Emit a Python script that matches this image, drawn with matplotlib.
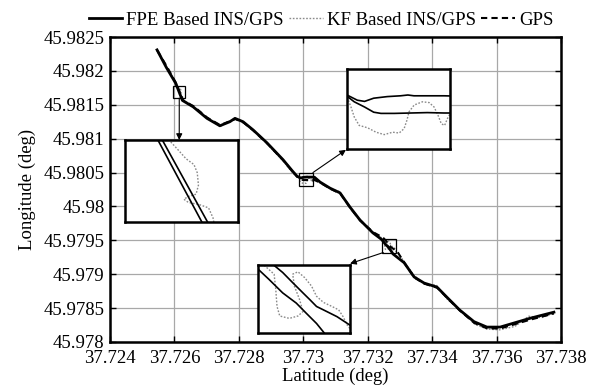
import matplotlib
matplotlib.use("Agg")
import matplotlib.pyplot as plt
from matplotlib.patches import Rectangle, ConnectionPatch

plt.rcParams['font.family'] = ['Liberation Serif', 'DejaVu Serif']
plt.rcParams['font.size'] = 13.5

# ---- tick values and labels ----
lat_ticks = [37.724, 37.726, 37.728, 37.730, 37.732, 37.734, 37.736, 37.738]
lat_labels = ['37.724', '37.726', '37.728', '37.73', '37.732', '37.734', '37.736', '37.738']
lon_ticks = [45.978, 45.9785, 45.979, 45.9795, 45.980, 45.9805, 45.981, 45.9815, 45.982, 45.9825]
lon_labels = ['45.978', '45.9785', '45.979', '45.9795', '45.98', '45.9805', '45.981',
              '45.9815', '45.982', '45.9825']

# ---- FPE based INS/GPS trajectory ----
fpe_lat = [37.72546, 37.72575, 37.726041, 37.726248, 37.72658, 37.72701, 37.72741, 37.72772,
           37.72788, 37.72813, 37.72844, 37.72887, 37.72937, 37.72965,
           37.729816, 37.729860, 37.729904, 37.729935, 37.729974, 37.730032, 37.730089,
           37.730120, 37.730146, 37.730203, 37.730274, 37.730344,
           37.73052, 37.73083, 37.73114, 37.73145, 37.73176, 37.73216,
           37.732396, 37.732440, 37.732492, 37.732558, 37.732623, 37.732671, 37.732720,
           37.732753, 37.732783,
           37.73313, 37.73344, 37.73375, 37.73415, 37.73446, 37.73486, 37.73530, 37.73570,
           37.73611, 37.73654, 37.73704, 37.73778]
fpe_lon = [45.98231, 45.98205, 45.981816, 45.981564, 45.98147, 45.98130, 45.98119, 45.98125,
           45.98130, 45.98125, 45.98113, 45.98094, 45.98069, 45.98053,
           45.980440, 45.980435, 45.980422, 45.980419, 45.980427, 45.980431, 45.980433,
           45.980435, 45.980433, 45.980433, 45.980433, 45.980432,
           45.98036, 45.98027, 45.98020, 45.97999, 45.97980, 45.97961,
           45.979526, 45.979508, 45.979478, 45.979438, 45.979408, 45.979378, 45.979348,
           45.979323, 45.979300,
           45.97917, 45.97896, 45.97887, 45.97881, 45.97866, 45.97847, 45.97830, 45.97822,
           45.97822, 45.97828, 45.97835, 45.97844]

# ---- KF based INS/GPS trajectory ----
kf_lat = [37.72548, 37.72577,
          37.726085, 37.726108, 37.726139, 37.726165, 37.726192, 37.726203, 37.726207,
          37.726199, 37.726173, 37.726158, 37.726173, 37.726211, 37.726241, 37.726256,
          37.726264,
          37.72660, 37.72700, 37.72742, 37.72770, 37.72790, 37.72815, 37.72846, 37.72888,
          37.72938, 37.72964,
          37.729816, 37.729860, 37.729877, 37.729891, 37.729912, 37.729948, 37.729984,
          37.730019, 37.730055, 37.730083, 37.730104, 37.730116, 37.730125, 37.730147,
          37.730182, 37.730211, 37.730232, 37.730249, 37.730263, 37.730277, 37.730289,
          37.730300, 37.730344,
          37.73054, 37.73085, 37.73112, 37.73147, 37.73178, 37.73214,
          37.732418, 37.732468, 37.732517, 37.732525, 37.732531, 37.732544, 37.732590,
          37.732631, 37.732655, 37.732639, 37.732614, 37.732606, 37.732631, 37.732663,
          37.732696, 37.732720, 37.732753, 37.732794, 37.732826, 37.732847, 37.732867,
          37.732880, 37.732924,
          37.73311, 37.73342, 37.73377, 37.73413, 37.73449, 37.73484, 37.73533, 37.73572,
          37.73610, 37.73657, 37.73700, 37.73740, 37.73776]
kf_lon = [45.98228, 45.98204,
          45.981798, 45.981780, 45.981758, 45.981739, 45.981726, 45.981708, 45.981681,
          45.981661, 45.981656, 45.981650, 45.981643, 45.981638, 45.981631, 45.981609,
          45.981582,
          45.98146, 45.98132, 45.98118, 45.98126, 45.98129, 45.98123, 45.98112, 45.98092,
          45.98067, 45.98051,
          45.980436, 45.980431, 45.980405, 45.980380, 45.980359, 45.980353, 45.980342,
          45.980336, 45.980342, 45.980340, 45.980351, 45.980372, 45.980393, 45.980410,
          45.980418, 45.980416, 45.980405, 45.980384, 45.980363, 45.980359, 45.980376,
          45.980388, 45.980400,
          45.98034, 45.98026, 45.98022, 45.97996, 45.97978, 45.97963,
          45.979540, 45.979520, 45.979493, 45.979448, 45.979398, 45.979370, 45.979363,
          45.979370, 45.979383, 45.979418, 45.979458, 45.979493, 45.979500, 45.979483,
          45.979458, 45.979428, 45.979410, 45.979398, 45.979388, 45.979368, 45.979343,
          45.979333, 45.979320,
          45.97920, 45.97899, 45.97885, 45.97884, 45.97862, 45.97849, 45.97826, 45.97819,
          45.97818, 45.97823, 45.97838, 45.97836, 45.97842]

# ---- GPS trajectory ----
gps_lat = [37.72547, 37.72577, 37.726055, 37.726268, 37.72659, 37.72702, 37.72742, 37.72773,
           37.72789, 37.72814, 37.72845, 37.72888, 37.72938, 37.72966,
           37.729816, 37.729860, 37.729891, 37.729935, 37.729974, 37.730005, 37.730062,
           37.730133, 37.730203, 37.730274, 37.730344,
           37.73053, 37.73084, 37.73115, 37.73146, 37.73177, 37.73217,
           37.732475, 37.732509, 37.732558, 37.732606, 37.732655, 37.732688, 37.732720,
           37.732753, 37.732818, 37.732880, 37.732924,
           37.73315, 37.73345, 37.73376, 37.73416, 37.73447, 37.73487, 37.73531, 37.73571,
           37.73612, 37.73655, 37.73705, 37.73778]
gps_lon = [45.98230, 45.98206, 45.981816, 45.981564, 45.98148, 45.98131, 45.98120, 45.98126,
           45.98129, 45.98124, 45.98112, 45.98093, 45.98068, 45.98052,
           45.980438, 45.980432, 45.980418, 45.980405, 45.980392, 45.980389, 45.980389,
           45.980390, 45.980391, 45.980390, 45.980390,
           45.98035, 45.98026, 45.98019, 45.97998, 45.97979, 45.97962,
           45.979540, 45.979523, 45.979498, 45.979468, 45.979438, 45.979418, 45.979398,
           45.979388, 45.979368, 45.979343, 45.979330,
           45.97916, 45.97895, 45.97886, 45.97880, 45.97865, 45.97846, 45.97828, 45.97820,
           45.97820, 45.97826, 45.97833, 45.97842]

# ---- zoom windows (lat range, lon range) ----
zoom_windows = [
    ((37.72596, 37.72634), (45.98160, 45.98178)),
    ((37.72986, 37.73030), (45.98030, 45.98050)),
    ((37.73244, 37.73288), (45.97932, 45.97952)),
]

W, H = 597, 387
fig = plt.figure(figsize=(W / 100, H / 100), dpi=100)


def px_rect(x0, y0, x1, y1):
    return [x0 / W, 1 - y1 / H, (x1 - x0) / W, (y1 - y0) / H]


ax = fig.add_axes(px_rect(110, 37, 561, 342))

l_fpe, = ax.plot(fpe_lat, fpe_lon, color='black', lw=2.0, ls='-', zorder=4,
                 label='FPE Based INS/GPS')
l_kf, = ax.plot(kf_lat, kf_lon, color='#8a8a8a', lw=1.0, ls=(0, (1.2, 1.2)), zorder=3,
                label='KF Based INS/GPS')
l_gps, = ax.plot(gps_lat, gps_lon, color='black', lw=1.5, ls=(0, (3, 2)), zorder=3,
                 label='GPS')

ax.set_xlim(37.724, 37.738)
ax.set_ylim(45.978, 45.9825)
ax.set_xticks(lat_ticks)
ax.set_xticklabels(lat_labels)
ax.set_yticks(lon_ticks)
ax.set_yticklabels(lon_labels)
ax.grid(True, color='#a8a8a8', lw=0.9)
ax.set_axisbelow(True)
ax.tick_params(direction='in', length=4, width=1.0, top=True, right=True)
ax.tick_params(axis='x', pad=6)
ax.tick_params(axis='y', pad=4)
for s in ax.spines.values():
    s.set_linewidth(1.8)
ax.set_xlabel('Latitude (deg)', labelpad=0)
ax.set_ylabel('Longitude (deg)', labelpad=5)

fig.legend(handles=[l_fpe, l_kf, l_gps], loc='center', bbox_to_anchor=(321 / W, 1 - 20 / H),
           ncol=3, frameon=False, handlelength=1.8, handletextpad=0.2, columnspacing=0.3,
           borderpad=0, borderaxespad=0)

inset_frames = [px_rect(125, 140, 238, 222), px_rect(347, 69, 450, 149),
                px_rect(258, 265, 350, 333)]
insets = []
for (xr, yr), frame in zip(zoom_windows, inset_frames):
    ax.add_patch(Rectangle((xr[0], yr[0]), xr[1] - xr[0], yr[1] - yr[0], fill=False,
                           ec='black', lw=0.9, zorder=6))
    ia = fig.add_axes(frame)
    ia.plot(kf_lat, kf_lon, color='#8a8a8a', lw=1.0, ls=(0, (1.2, 1.2)))
    ia.plot(gps_lat, gps_lon, color='black', lw=1.2)
    ia.plot(fpe_lat, fpe_lon, color='black', lw=1.2)
    ia.set_xlim(*xr)
    ia.set_ylim(*yr)
    ia.set_xticks([])
    ia.set_yticks([])
    for s in ia.spines.values():
        s.set_linewidth(1.8)
    insets.append(ia)

arrow_kw = dict(arrowstyle='-|>', mutation_scale=9, color='black', lw=0.8)
# box 1 -> inset 1 (straight down)
(x0, x1), (y0, y1) = zoom_windows[0]
fig.add_artist(ConnectionPatch(xyA=((x0 + x1) / 2, y0), coordsA=ax.transData,
                               xyB=(0.48, 1.0), coordsB=insets[0].transAxes, **arrow_kw))
# box 2 -> inset 2
(x0, x1), (y0, y1) = zoom_windows[1]
fig.add_artist(ConnectionPatch(xyA=(x1, y1), coordsA=ax.transData,
                               xyB=(-0.01, -0.01), coordsB=insets[1].transAxes, **arrow_kw))
# box 3 -> inset 3
(x0, x1), (y0, y1) = zoom_windows[2]
fig.add_artist(ConnectionPatch(xyA=(x0 + 0.1 * (x1 - x0), y0), coordsA=ax.transData,
                               xyB=(1.0, 1.02), coordsB=insets[2].transAxes, **arrow_kw))

fig.savefig('out.png', dpi=100)
